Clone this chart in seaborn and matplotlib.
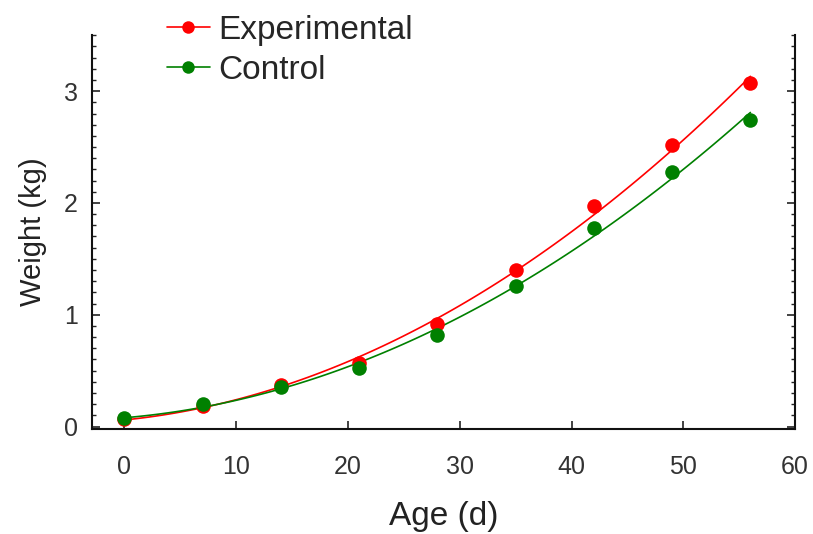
import matplotlib
matplotlib.use('Agg')
import matplotlib.pyplot as plt
from matplotlib.lines import Line2D
from matplotlib.ticker import MultipleLocator
import seaborn as sns
import numpy as np

# values
age_days = [0, 7, 14, 21, 28, 35, 42, 49, 56]
weight_experimental = [0.07, 0.18, 0.37, 0.57, 0.92, 1.40, 1.97, 2.52, 3.07]
weight_control = [0.08, 0.20, 0.35, 0.52, 0.82, 1.26, 1.78, 2.28, 2.74]
series_names = ['Experimental', 'Control']
series_colors = ['#ff0000', '#008000']

sns.set_style('ticks')
plt.rcParams['font.family'] = ['Liberation Sans', 'DejaVu Sans']

fig = plt.figure(figsize=(8.13, 5.34), dpi=100)
ax = fig.add_axes([0.113, 0.197, 0.865, 0.737])

for ys, name, col in zip([weight_experimental, weight_control], series_names, series_colors):
    # quadratic fit curve plus the measured points
    sns.regplot(x=np.array(age_days), y=np.array(ys), order=2, ci=None, ax=ax,
                color=col, scatter_kws={'s': 110, 'alpha': 1, 'linewidths': 0, 'zorder': 3},
                line_kws={'lw': 1.2, 'zorder': 2})

ax.set_xlim(-2.9, 60)
ax.set_ylim(-0.02, 3.5)
ax.xaxis.set_major_locator(MultipleLocator(10))
ax.yaxis.set_major_locator(MultipleLocator(1))
ax.yaxis.set_minor_locator(MultipleLocator(0.1))
ax.tick_params(axis='both', which='both', direction='in', right=True, colors='#222222')
ax.tick_params(axis='both', which='major', length=6, width=1.2, labelsize=18, labelcolor='#333333')
ax.tick_params(axis='x', which='major', pad=19)
ax.tick_params(axis='y', which='major', pad=10)
ax.tick_params(axis='y', which='minor', length=3, width=1)
for side in ['left', 'bottom', 'right']:
    ax.spines[side].set_linewidth(1.5)
    ax.spines[side].set_color('#111111')
ax.spines['top'].set_visible(False)

ax.set_xlabel('Age (d)', fontsize=24, labelpad=16, color='#222222')
ax.set_ylabel('Weight (kg)', fontsize=21, labelpad=12, color='#222222')

handles = [Line2D([0], [0], color=c, lw=1.2, marker='o', markersize=9, markeredgewidth=0)
           for c in series_colors]
fig.legend(handles, series_names, loc='upper left', bbox_to_anchor=(0.205, 0.972),
           frameon=False, fontsize=24, handlelength=1.3, handletextpad=0.25,
           labelspacing=0.26, borderaxespad=0, borderpad=0)

fig.savefig('out.png', dpi=100)
